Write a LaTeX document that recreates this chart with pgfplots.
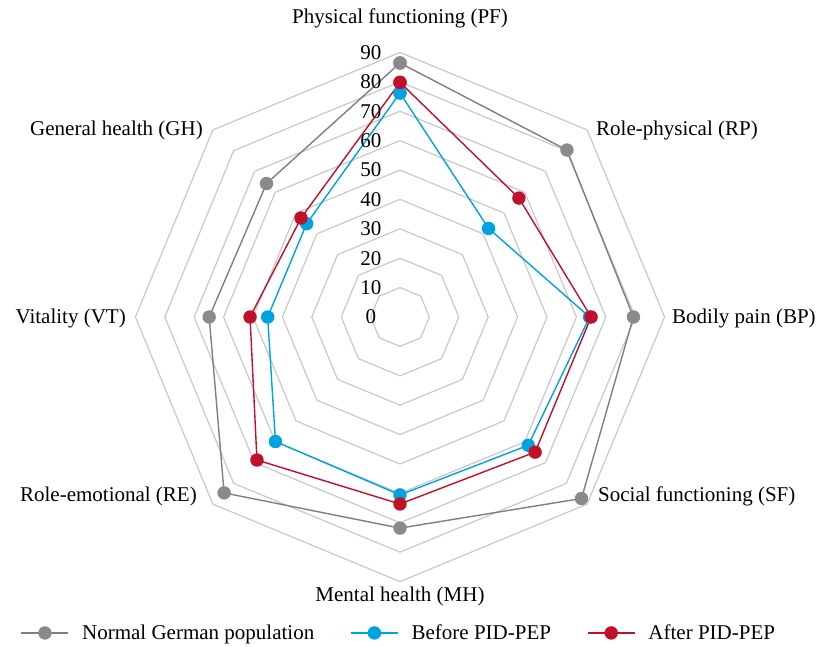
\documentclass[border=0pt]{standalone}
\usepackage{pgfplots}
\pgfplotsset{compat=1.18}
\usepgfplotslibrary{polar}
\usepackage{fontspec}
\setmainfont{Liberation Serif}
\definecolor{ring}{HTML}{C8C8C8}
\definecolor{grayline}{HTML}{7F7F7F}
\definecolor{graymark}{HTML}{8A8A8A}
\definecolor{blueS}{HTML}{00A2DF}
\definecolor{redS}{HTML}{C0102A}
\begin{document}
\begin{tikzpicture}[every node/.style={font=\fontsize{21}{25}\selectfont, inner sep=0pt}]
\useasboundingbox (-400pt,-329pt) rectangle (419pt,317pt);
\begin{polaraxis}[
  at={(0pt,0pt)}, anchor=origin,
  width=529.2pt, height=529.2pt, scale only axis,
  xmin=0, xmax=360, ymin=0, ymax=90,
  hide axis, clip=false,
  legend columns=3,
  legend style={at={(0.496,-0.097)}, anchor=center, draw=none, fill=none,
    font=\fontsize{21}{25}\selectfont, inner sep=0pt,
    /tikz/every odd column/.append style={column sep=13pt},
    /tikz/every even column/.append style={column sep=36pt},
    nodes={inner sep=0pt, anchor=west}},
  legend image code/.code={\draw[mark repeat=2, mark phase=2, #1] plot coordinates {(0pt,0pt)(23.5pt,0pt)(47pt,0pt)};},
]
\pgfplotsinvokeforeach{10,20,...,90}{
  \addplot[ring, line width=1.2pt, no marks, forget plot] coordinates {(90,#1)(45,#1)(0,#1)(-45,#1)(-90,#1)(-135,#1)(-180,#1)(-225,#1)(-270,#1)};
}
\addplot[grayline, line width=1.4pt, mark=*, mark size=6pt, mark options={fill=graymark, draw=graymark}] coordinates {
 (90,86.4)(45,80.3)(0,79.4)(-45,87.3)(-90,71.8)(-135,84.6)(-180,64.9)(-225,64.2)(-270,86.4)};
\addlegendentry{Normal German population}
\addplot[blueS, line width=1.4pt, mark=*, mark size=6pt, mark options={fill=blueS, draw=blueS}] coordinates {
 (90,76.2)(45,42.6)(0,64.5)(-45,61.7)(-90,60.5)(-135,59.9)(-180,45.0)(-225,44.9)(-270,76.2)};
\addlegendentry{Before PID-PEP}
\addplot[redS, line width=1.4pt, mark=*, mark size=6pt, mark options={fill=redS, draw=redS}] coordinates {
 (90,79.8)(45,57.2)(0,65.0)(-45,65.0)(-90,63.6)(-135,68.8)(-180,51.0)(-225,47.6)(-270,79.8)};
\addlegendentry{After PID-PEP}
\pgfplotsinvokeforeach{0,10,...,90}{
  \node[xshift=-29pt] at (axis cs:90,#1) {#1};
}
\end{polaraxis}
\node at (0pt,299pt) {Physical functioning (PF)};
\node[anchor=west] at (196pt,187pt) {Role-physical (RP)};
\node[anchor=west] at (272pt,-1pt) {Bodily pain (BP)};
\node[anchor=west] at (198pt,-179pt) {Social functioning (SF)};
\node at (0pt,-279pt) {Mental health (MH)};
\node[anchor=east] at (-203pt,-179pt) {Role-emotional (RE)};
\node[anchor=east] at (-274pt,-1pt) {Vitality (VT)};
\node[anchor=east] at (-197pt,187pt) {General health (GH)};
\end{tikzpicture}
\end{document}
